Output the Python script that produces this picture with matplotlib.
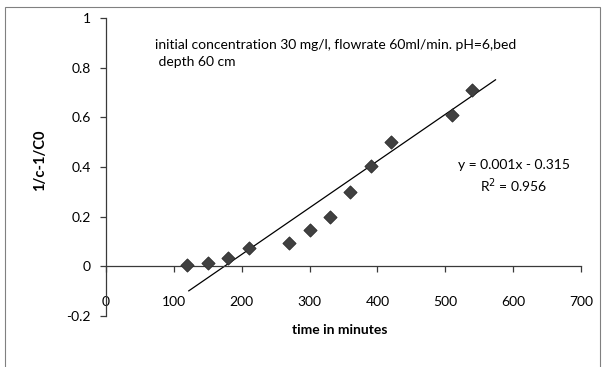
import numpy as np
import matplotlib.pyplot as plt
from matplotlib.patches import Rectangle

plt.rcParams['font.family'] = ['Lato', 'DejaVu Sans']

# data
time_min = [120, 150, 180, 210, 270, 300, 330, 360, 390, 420, 510, 540]
inv_c = [0.007, 0.015, 0.035, 0.073, 0.095, 0.145, 0.197, 0.298, 0.403, 0.502, 0.609, 0.71]
# trendline as drawn in the chart
trend_slope = 0.00188
trend_intercept = -0.328
trend_x = [122, 574]
x_ticks = [0, 100, 200, 300, 400, 500, 600, 700]
y_ticks = [-0.2, 0, 0.2, 0.4, 0.6, 0.8, 1]
y_tick_labels = ["-0.2", "0", "0.2", "0.4", "0.6", "0.8", "1"]
note = "initial concentration 30 mg/l, flowrate 60ml/min. pH=6,bed\n depth 60 cm"
eq_text = "y = 0.001x - 0.315\nR$^2$ = 0.956"

fig = plt.figure(figsize=(6.02, 3.67), dpi=100)
fig.patches.append(Rectangle((5/602, -0.01), 595/602, 1 - 7/367 + 0.01,
                             transform=fig.transFigure, fill=False,
                             edgecolor="#808080", linewidth=0.8))
ax = fig.add_axes([106/602, 1 - 316/367, 475/602, 298/367])

tx = np.array(trend_x)
ax.plot(tx, trend_slope * tx + trend_intercept, color="black", linewidth=0.9, zorder=2)

ax.scatter(time_min, inv_c, marker="D", s=45, color="#404040",
           edgecolor="#2a2a2a", linewidth=0.6, zorder=3)

ax.set_xlim(0, 700)
ax.set_ylim(-0.2, 1)
ax.spines["left"].set_position(("data", 0))
ax.spines["bottom"].set_position(("data", 0))
ax.spines["top"].set_visible(False)
ax.spines["right"].set_visible(False)
for s in ("left", "bottom"):
    ax.spines[s].set_color("#3a3a3a")
    ax.spines[s].set_linewidth(0.9)

ax.set_xticks(x_ticks)
ax.set_xticklabels([str(v) for v in x_ticks])
ax.set_yticks(y_ticks)
ax.set_yticklabels(y_tick_labels)
ax.tick_params(axis="x", direction="out", length=4, width=0.9,
               pad=17, labelsize=10, colors="#3a3a3a", labelcolor="black")
ax.tick_params(axis="y", direction="out", length=4, width=0.9,
               pad=7, labelsize=10, colors="#3a3a3a", labelcolor="black")

fig.text(40/602, 1 - 160/367, "1/c-1/C0", rotation=90, ha="center", va="center",
         fontsize=10.5, fontweight="bold")
fig.text(340/602, 1 - 330/367, "time in minutes", ha="center", va="center",
         fontsize=10, fontweight="bold")

ax.text((155 - 106) / 475 * 700, 0.915, note,
        ha="left", va="top", fontsize=10, linespacing=1.45)
ax.text((514 - 106) / 475 * 700, (267 - 177) / 249, eq_text,
        ha="center", va="center", fontsize=10, linespacing=1.35)

fig.savefig("out.png", dpi=100)
